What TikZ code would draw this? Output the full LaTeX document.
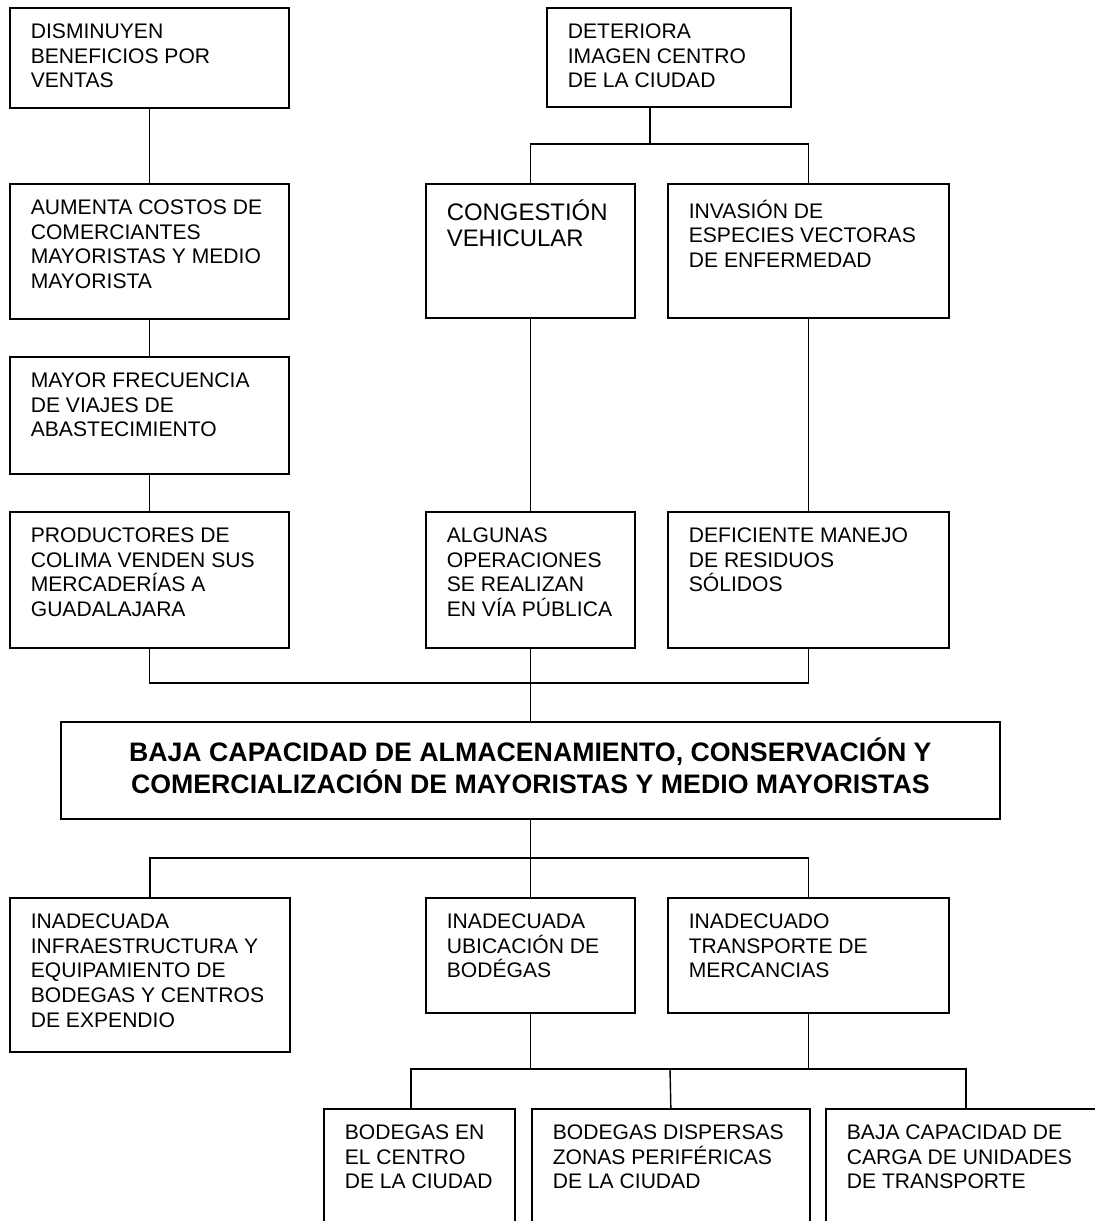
\documentclass[tikz,border=0pt]{standalone}
\usepackage{fontspec}
\setmainfont{Liberation Sans}

\newlength{\px}
\setlength{\px}{0.025cm}
% text block inside a box: width and height of the whole box in pixels
\newcommand{\cajatexto}[3]{\parbox[t][\dimexpr #2\px-32\px\relax][t]{\dimexpr #1\px-42\px\relax}{\raggedright #3}}

\tikzset{
  caja/.style={draw, line width=1.2pt, anchor=north west, inner xsep=0.525cm, inner ysep=0.4cm,
    font=\fontsize{15}{17.5}\selectfont},
  enlace/.style={line width=1pt},
}

\begin{document}
\begin{tikzpicture}[x=0.025cm, y=-0.025cm]
    \useasboundingbox (0,0) rectangle (1095,1221);
    \clip (0,0) rectangle (1095,1221);

    % Effects
    \node[caja] (dis) at (9,7) {\cajatexto{279}{100}{DISMINUYEN\\BENEFICIOS POR\\VENTAS}};
    \node[caja] (det) at (546,7) {\cajatexto{244}{99}{DETERIORA\\IMAGEN CENTRO\\DE LA CIUDAD}};
    \node[caja] (aum) at (9,183) {\cajatexto{279}{135}{AUMENTA COSTOS DE\\COMERCIANTES\\MAYORISTAS Y MEDIO\\MAYORISTA}};
    \node[caja, font=\fontsize{17}{18.5}\selectfont] (con) at (425,183) {\cajatexto{209}{134}{CONGESTIÓN\\VEHICULAR}};
    \node[caja] (inv) at (667,183) {\cajatexto{281}{134}{INVASIÓN DE\\ESPECIES VECTORAS\\DE ENFERMEDAD}};
    \node[caja] (may) at (9,356) {\cajatexto{279}{117}{MAYOR FRECUENCIA\\DE VIAJES DE\\ABASTECIMIENTO}};
    \node[caja] (pro) at (9,511) {\cajatexto{279}{136}{PRODUCTORES DE\\COLIMA VENDEN SUS\\MERCADERÍAS A\\GUADALAJARA}};
    \node[caja] (alg) at (425,511) {\cajatexto{209}{136}{ALGUNAS\\OPERACIONES\\SE REALIZAN\\EN VÍA PÚBLICA}};
    \node[caja] (def) at (667,511) {\cajatexto{281}{136}{DEFICIENTE MANEJO\\DE RESIDUOS\\SÓLIDOS}};

    % Central problem
    \node[caja, font=\fontsize{19}{22.5}\selectfont\bfseries] (baja) at (60,721)
        {\cajatexto{939}{97}{\centering BAJA CAPACIDAD DE ALMACENAMIENTO, CONSERVACIÓN Y\\COMERCIALIZACIÓN DE MAYORISTAS Y MEDIO MAYORISTAS}};

    % Causes
    \node[caja] (infra) at (9,897) {\cajatexto{280}{154}{INADECUADA\\INFRAESTRUCTURA Y\\EQUIPAMIENTO DE\\BODEGAS Y CENTROS\\DE EXPENDIO}};
    \node[caja] (ubi) at (425,897) {\cajatexto{209}{115}{INADECUADA\\UBICACIÓN DE\\BODÉGAS}};
    \node[caja] (tra) at (667,897) {\cajatexto{281}{115}{INADECUADO\\TRANSPORTE DE\\MERCANCIAS}};
    \node[caja] (cen) at (323,1108) {\cajatexto{191}{140}{BODEGAS EN\\EL CENTRO\\DE LA CIUDAD}};
    \node[caja] (dsp) at (531,1108) {\cajatexto{278}{140}{BODEGAS DISPERSAS\\ZONAS PERIFÉRICAS\\DE LA CIUDAD}};
    \node[caja] (car) at (825,1108) {\cajatexto{280}{140}{BAJA CAPACIDAD DE\\CARGA DE UNIDADES\\DE TRANSPORTE}};

    % Junctions
    \coordinate (bar1) at (650,144);
    \coordinate (bar2) at (529.5,683);
    \coordinate (bar3) at (529.5,858);
    \coordinate (bar4) at (670,1069);

    % Connectors
    \draw[enlace] (dis.south) -- (aum.north);
    \draw[enlace] (aum.south) -- (may.north);
    \draw[enlace] (may.south) -- (pro.north);
    \draw[enlace] (det.south -| bar1) -- (bar1);
    \draw[enlace] (con.north) |- (bar1) -| (inv.north);
    \draw[enlace] (con.south) -- (alg.north);
    \draw[enlace] (inv.south) -- (def.north);
    \draw[enlace] (pro.south) |- (bar2) -| (def.south);
    \draw[enlace] (alg.south) -- (baja.north);
    \draw[enlace] (baja.south) -- (ubi.north);
    \draw[enlace] (infra.north) |- (bar3) -| (tra.north);
    \draw[enlace] (ubi.south) -- (ubi.south |- bar4);
    \draw[enlace] (tra.south) -- (tra.south |- bar4);
    \draw[enlace] ([xshift=-0.21cm]cen.north) |- (bar4) -| (car.north);
    \draw[enlace] (dsp.north) -- (bar4);
\end{tikzpicture}
\end{document}
